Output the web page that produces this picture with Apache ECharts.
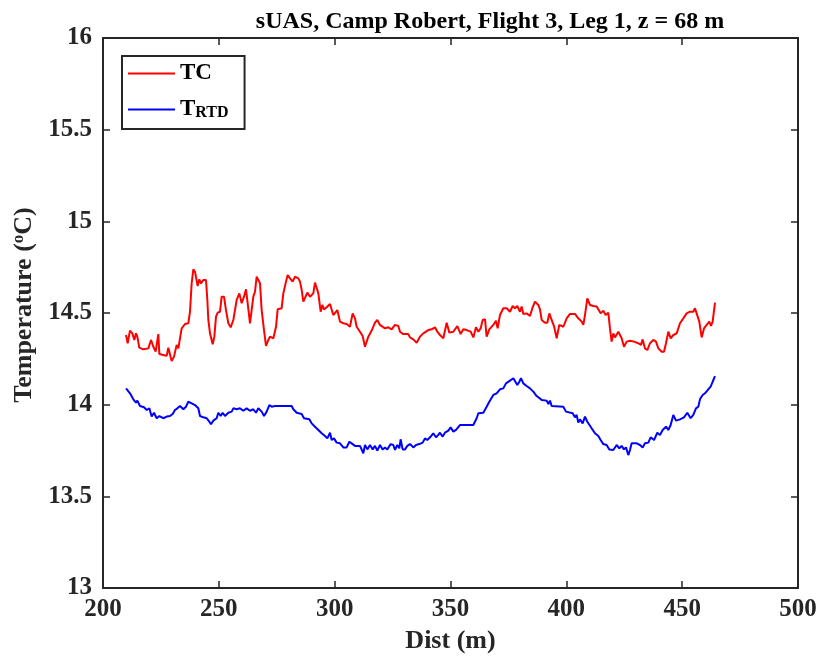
<!DOCTYPE html>
<html>
<head>
<meta charset="utf-8">
<script src="https://cdn.jsdelivr.net/npm/echarts@6/dist/echarts.min.js"></script>
<style>
  html, body { margin: 0; padding: 0; background: #fff; }
  #chart { width: 820px; height: 660px; }
</style>
</head>
<body>
<div id="chart"></div>
<script>
// Thermocouple (TC) temperature along the leg
const tcDist = [209.93,210.65,211.65,212.66,213.53,214.24,214.82,215.68,217.41,219.57,220.72,221.73,222.73,223.88,224.32,226.04,227.48,228.20,229.64,230.65,231.80,232.52,233.96,235.40,236.83,237.55,238.27,238.99,239.71,240.86,241.58,242.30,243.31,244.46,245.04,245.47,246.19,247.34,248.06,248.78,249.50,250.50,251.22,252.23,253.09,254.10,255.11,256.26,256.98,257.70,258.85,259.86,260.86,261.73,262.45,263.45,264.17,264.89,265.61,266.33,267.05,267.77,268.49,269.50,270.36,271.37,272.09,273.53,274.68,275.40,277.12,277.84,278.99,279.71,280.72,281.87,282.88,284.32,285.04,285.76,286.48,287.19,288.20,289.35,290.79,291.51,292.23,292.95,293.96,294.68,295.40,296.55,297.99,299.42,301.15,302.30,303.74,305.17,306.61,307.76,308.77,309.49,310.93,312.08,313.09,314.53,315.97,317.40,318.41,319.56,321.72,323.16,324.60,326.04,327.48,328.19,329.63,331.79,332.51,333.95,335.39,336.83,338.27,340.43,341.86,343.30,344.31,345.46,346.90,348.34,349.49,351.22,352.94,354.38,355.53,356.97,358.70,359.85,361.00,362.01,363.02,363.88,364.89,365.60,366.75,368.48,369.63,370.35,371.36,372.80,374.24,375.68,376.83,377.84,378.84,379.99,380.71,381.43,382.87,384.31,385.46,386.47,387.91,388.63,389.35,390.79,391.79,392.66,393.66,394.67,395.82,396.97,398.70,400.14,401.58,403.73,405.17,406.61,407.33,408.05,409.06,410.21,411.65,413.09,413.81,414.81,415.97,416.97,418.12,418.84,419.56,420.28,421.00,422.44,423.88,424.89,426.04,427.48,429.20,431.07,432.22,432.94,433.95,434.96,436.11,437.55,438.70,439.71,441.14,442.15,443.02,444.02,445.03,446.18,447.62,449.06,450.50,451.94,453.37,454.81,455.53,456.25,457.40,458.41,459.42,460.57,461.72,462.44,463.16,463.73,464.17];
const tcTemp = [14.380,14.335,14.404,14.389,14.353,14.389,14.371,14.311,14.302,14.307,14.353,14.316,14.289,14.385,14.276,14.271,14.266,14.311,14.238,14.262,14.326,14.307,14.416,14.440,14.444,14.507,14.662,14.738,14.725,14.647,14.684,14.662,14.680,14.680,14.571,14.462,14.389,14.329,14.371,14.480,14.502,14.507,14.589,14.589,14.516,14.444,14.422,14.462,14.471,14.571,14.607,14.553,14.589,14.629,14.553,14.444,14.435,14.589,14.616,14.698,14.707,14.662,14.516,14.407,14.320,14.353,14.371,14.362,14.425,14.520,14.526,14.607,14.671,14.707,14.689,14.671,14.698,14.689,14.671,14.626,14.562,14.571,14.611,14.589,14.607,14.666,14.662,14.607,14.507,14.544,14.520,14.531,14.549,14.489,14.516,14.453,14.444,14.440,14.425,14.498,14.471,14.425,14.398,14.375,14.316,14.371,14.404,14.447,14.462,14.435,14.416,14.422,14.411,14.435,14.429,14.398,14.385,14.385,14.367,14.356,14.338,14.371,14.389,14.407,14.411,14.422,14.398,14.380,14.362,14.447,14.393,14.398,14.429,14.385,14.411,14.407,14.398,14.367,14.422,14.398,14.416,14.462,14.466,14.371,14.411,14.435,14.458,14.416,14.489,14.526,14.526,14.507,14.538,14.526,14.538,14.507,14.535,14.495,14.498,14.484,14.531,14.562,14.544,14.520,14.462,14.447,14.447,14.498,14.462,14.429,14.362,14.435,14.425,14.471,14.495,14.495,14.471,14.453,14.435,14.489,14.580,14.544,14.538,14.535,14.544,14.498,14.513,14.489,14.502,14.416,14.344,14.389,14.367,14.398,14.362,14.316,14.344,14.349,14.344,14.335,14.326,14.356,14.307,14.298,14.335,14.353,14.344,14.307,14.289,14.289,14.335,14.398,14.362,14.380,14.389,14.444,14.471,14.498,14.507,14.507,14.526,14.498,14.453,14.367,14.416,14.435,14.453,14.429,14.453,14.462,14.556];

// RTD temperature along the leg
const rtdDist = [209.93,211.65,213.09,214.24,214.82,215.97,217.70,218.85,220.00,221.01,222.01,223.17,224.32,226.04,227.48,228.92,230.07,231.08,232.09,233.24,234.68,235.83,236.83,238.27,239.71,241.15,241.87,243.31,244.75,245.90,246.62,247.63,249.06,249.78,250.79,251.65,252.66,254.10,255.54,256.26,257.70,259.14,260.58,262.01,263.45,264.89,266.04,267.05,268.49,269.50,270.65,271.80,272.81,274.24,281.44,282.16,283.60,285.76,286.76,289.06,290.07,290.79,291.51,292.95,294.39,295.83,296.83,297.99,298.70,299.71,300.86,302.30,303.74,305.17,306.33,307.33,308.77,310.93,312.37,313.09,314.10,315.25,316.40,317.40,318.41,319.56,320.71,321.72,322.73,324.17,325.32,326.04,327.04,327.91,328.48,329.35,330.35,331.36,332.51,333.95,335.10,336.54,337.98,338.99,339.99,341.15,342.58,343.74,344.74,345.46,346.61,347.62,349.06,350.07,351.22,352.37,354.09,359.85,361.29,362.01,364.17,365.60,366.75,368.48,369.92,371.36,372.80,373.95,375.68,377.12,377.84,378.84,379.71,380.43,381.43,382.87,384.31,385.75,387.19,389.35,391.51,392.23,392.95,393.66,398.70,399.85,400.14,402.73,403.73,404.45,405.17,405.89,407.04,408.05,409.06,409.92,410.93,412.37,413.81,414.81,415.97,417.40,418.55,420.28,421.72,422.87,423.88,424.89,425.75,426.76,427.48,428.19,430.35,431.79,432.94,433.95,435.39,436.40,437.84,439.27,440.43,441.58,443.02,444.02,445.03,446.18,447.33,449.06,450.78,452.22,453.66,454.81,455.96,456.97,457.69,458.84,459.85,461.29,462.30,463.16,464.17];
const rtdTemp = [14.089,14.062,14.029,14.011,14.022,13.993,13.986,13.971,13.980,13.935,13.956,13.926,13.938,13.926,13.935,13.938,13.949,13.971,13.980,13.993,13.975,13.989,14.016,14.007,13.998,13.980,13.938,13.931,13.926,13.907,13.893,13.913,13.926,13.956,13.938,13.956,13.938,13.956,13.962,13.980,13.975,13.980,13.967,13.980,13.967,13.975,13.956,13.980,13.962,13.938,13.962,13.998,13.989,13.993,13.993,13.975,13.956,13.949,13.926,13.920,13.898,13.907,13.880,13.862,13.844,13.829,13.816,13.847,13.807,13.816,13.793,13.789,13.767,13.767,13.798,13.789,13.775,13.775,13.735,13.780,13.756,13.780,13.756,13.775,13.749,13.780,13.756,13.767,13.756,13.785,13.780,13.753,13.780,13.762,13.811,13.756,13.756,13.775,13.785,13.767,13.780,13.785,13.793,13.816,13.807,13.822,13.844,13.822,13.835,13.847,13.826,13.847,13.858,13.876,13.853,13.862,13.889,13.889,13.926,13.953,13.956,13.989,14.016,14.053,14.062,14.084,14.089,14.116,14.131,14.144,14.138,14.107,14.125,14.144,14.116,14.102,14.089,14.071,14.047,14.026,14.022,14.004,14.022,13.993,13.989,13.962,13.956,13.953,13.931,13.944,13.902,13.920,13.898,13.935,13.907,13.913,13.871,13.844,13.829,13.807,13.785,13.780,13.756,13.753,13.780,13.762,13.775,13.756,13.767,13.725,13.753,13.789,13.789,13.780,13.767,13.789,13.793,13.822,13.807,13.847,13.835,13.862,13.880,13.862,13.889,13.944,13.913,13.920,13.931,13.956,13.926,13.944,13.980,13.989,14.029,14.053,14.062,14.084,14.098,14.125,14.156];

// Axis settings
const xMin = 200, xMax = 500, xStep = 50;
const yMin = 13, yMax = 16, yStep = 0.5;

const titleText = 'sUAS, Camp Robert, Flight 3, Leg 1, z = 68 m';
const seriesNames = ['TC', 'TRTD'];

const serif = '"Liberation Serif", "DejaVu Serif", serif';
const ink = '#262626';

const pairs = (xs, ys) => xs.map((x, i) => [x, ys[i]]);

const chart = echarts.init(document.getElementById('chart'), null, { renderer: 'canvas' });

const axisLineStyle = { show: true, onZero: false, lineStyle: { color: ink, width: 2 } };
const tickStyle = { show: true, inside: true, length: 7, lineStyle: { color: ink, width: 1.5 } };

chart.setOption({
  animation: false,
  backgroundColor: '#fff',
  title: {
    text: titleText,
    left: 485, top: 5, textAlign: 'center',
    textStyle: { fontFamily: serif, fontWeight: 'bold', fontSize: 24, color: '#000' }
  },
  grid: { left: 103, right: 22, top: 38, bottom: 72, containLabel: false },
  legend: {
    data: seriesNames,
    orient: 'vertical',
    left: 122, top: 56,
    padding: [6, 16, 8, 6],
    itemWidth: 47, itemHeight: 2, itemGap: 9,
    icon: 'rect',
    borderColor: ink, borderWidth: 2, backgroundColor: '#fff',
    formatter: n => n === 'TRTD' ? '{t|T}{s|RTD}' : '{t|TC}',
    textStyle: {
      rich: {
        t: { fontFamily: serif, fontWeight: 'bold', fontSize: 23, color: '#000', lineHeight: 23 },
        s: { fontFamily: serif, fontWeight: 'bold', fontSize: 16, color: '#000', lineHeight: 23, verticalAlign: 'bottom', padding: [11, 0, 0, 0] }
      }
    }
  },
  xAxis: [
    {
      type: 'value', min: xMin, max: xMax, interval: xStep, position: 'bottom',
      axisLine: axisLineStyle, axisTick: tickStyle, splitLine: { show: false },
      axisLabel: { fontFamily: serif, fontWeight: 'bold', fontSize: 25, color: ink, margin: 9 },
      name: 'Dist (m)', nameLocation: 'middle', nameGap: 40,
      nameTextStyle: { fontFamily: serif, fontWeight: 'bold', fontSize: 26, color: ink }
    },
    {
      type: 'value', min: xMin, max: xMax, interval: xStep, position: 'top',
      axisLine: axisLineStyle, axisTick: tickStyle, splitLine: { show: false },
      axisLabel: { show: false }
    }
  ],
  yAxis: [
    {
      type: 'value', min: yMin, max: yMax, interval: yStep, position: 'left',
      axisLine: axisLineStyle, axisTick: tickStyle, splitLine: { show: false },
      axisLabel: { fontFamily: serif, fontWeight: 'bold', fontSize: 25, color: ink, margin: 11 },
      name: '{n|Temperature (}{s|o}{n|C)}', nameLocation: 'middle', nameGap: 62, nameRotate: 90,
      nameTextStyle: {
        padding: [0, 0, 0, 16],
        rich: {
          n: { fontFamily: serif, fontWeight: 'bold', fontSize: 26, color: ink, lineHeight: 28 },
          s: { fontFamily: serif, fontWeight: 'bold', fontSize: 17, color: ink, lineHeight: 28, verticalAlign: 'top', padding: [0, 0, 10, 0] }
        }
      }
    },
    {
      type: 'value', min: yMin, max: yMax, interval: yStep, position: 'right',
      axisLine: axisLineStyle, axisTick: tickStyle, splitLine: { show: false },
      axisLabel: { show: false }
    }
  ],
  series: [
    {
      name: 'TC', type: 'line', xAxisIndex: 0, yAxisIndex: 0,
      data: pairs(tcDist, tcTemp), showSymbol: false, symbol: 'none',
      lineStyle: { color: '#ff0000', width: 2 }, itemStyle: { color: '#ff0000' }
    },
    {
      name: 'TRTD', type: 'line', xAxisIndex: 0, yAxisIndex: 0,
      data: pairs(rtdDist, rtdTemp), showSymbol: false, symbol: 'none',
      lineStyle: { color: '#0000ff', width: 2 }, itemStyle: { color: '#0000ff' }
    }
  ]
});
</script>
</body>
</html>
